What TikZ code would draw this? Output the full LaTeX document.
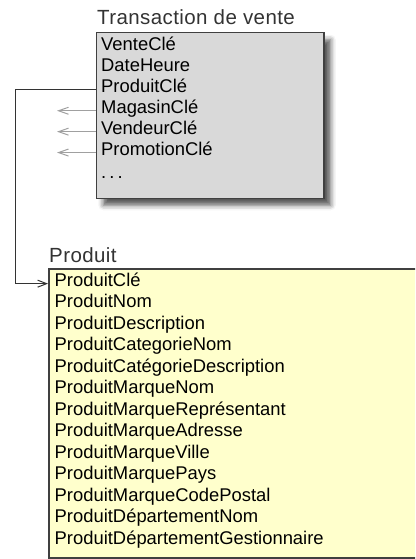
\documentclass[tikz,border=0pt]{standalone}
\usepackage{fontspec}
\setmainfont{Liberation Sans}
\newfontfamily\titlefont[LetterSpace=2]{Liberation Sans}
\usetikzlibrary{arrows.meta,shadows.blur}
\definecolor{boxgray}{HTML}{D9D9D9}
\definecolor{boxyellow}{HTML}{FFFFCC}
\definecolor{edgegray}{HTML}{404040}
\definecolor{linkgray}{HTML}{A0A0A0}
\begin{document}
\begin{tikzpicture}[x=1pt,y=-1pt,
  tablebox/.style={draw=edgegray, line width=1.5pt, rectangle, inner sep=0pt, anchor=north west},
  tabletitle/.style={anchor=base west, inner sep=0pt, text=black!80,
    font=\titlefont\fontsize{20.5}{24}\selectfont},
  field/.style={anchor=base west, inner sep=0pt, font=\fontsize{18.4}{21}\selectfont},
  link/.style={line width=1pt, draw=black!80, -{Straight Barb[length=9pt,width=7pt]}},
  lightlink/.style={line width=1pt, draw=linkgray, -{Straight Barb[length=10pt,width=7pt]}}]

\useasboundingbox (0,0) rectangle (415,559);
\clip (0,0) rectangle (415,559);

% Fact table: Transaction de vente
\node[tabletitle] (tvTitle) at (97,25) {Transaction de vente};
\node[tablebox, fill=boxgray, minimum width=227.5pt, minimum height=165.5pt,
  blur shadow={shadow xshift=7pt, shadow yshift=-7pt, shadow blur radius=5pt, shadow opacity=65}]
  (tv) at (95.5,32) {};
\node[field] (tvVente)    at (101,50.7)  {VenteClé};
\node[field] (tvDate)     at (101,71.6)  {DateHeure};
\node[field] (tvProduit)  at (101,92.5)  {ProduitClé};
\node[field] (tvMagasin)  at (101,113.4) {MagasinClé};
\node[field] (tvVendeur)  at (101,134.3) {VendeurClé};
\node[field] (tvPromo)    at (101,155.2) {PromotionClé};
\node[field] (tvEtc)      at (101,178)   {.\,.\,.};

% Dimension table: Produit
\node[tabletitle] (prTitle) at (49,262.3) {Produit};
\node[tablebox, fill=boxyellow, minimum width=400pt, minimum height=289pt] (pr) at (48,268) {};
\foreach \txt [count=\i from 0] in {ProduitClé, ProduitNom, ProduitDescription,
    ProduitCategorieNom, ProduitCatégorieDescription, ProduitMarqueNom,
    ProduitMarqueReprésentant, ProduitMarqueAdresse, ProduitMarqueVille,
    ProduitMarquePays, ProduitMarqueCodePostal, ProduitDépartementNom,
    ProduitDépartementGestionnaire}
  \node[field] (pr\i) at (54.5,286.3+21.5*\i) {\txt};

% Connectors
\coordinate (bend) at (15.7,0);
\coordinate (stub) at (57,0);
\draw[link] (tv.west |- tvProduit.mid) -- (bend |- tvProduit.mid)
  -- (bend |- pr0.mid) -- (pr.west |- pr0.mid);
\draw[lightlink] (tv.west |- tvMagasin.mid) -- (stub |- tvMagasin.mid);
\draw[lightlink] (tv.west |- tvVendeur.mid) -- (stub |- tvVendeur.mid);
\draw[lightlink] (tv.west |- tvPromo.mid) -- (stub |- tvPromo.mid);
\end{tikzpicture}
\end{document}
